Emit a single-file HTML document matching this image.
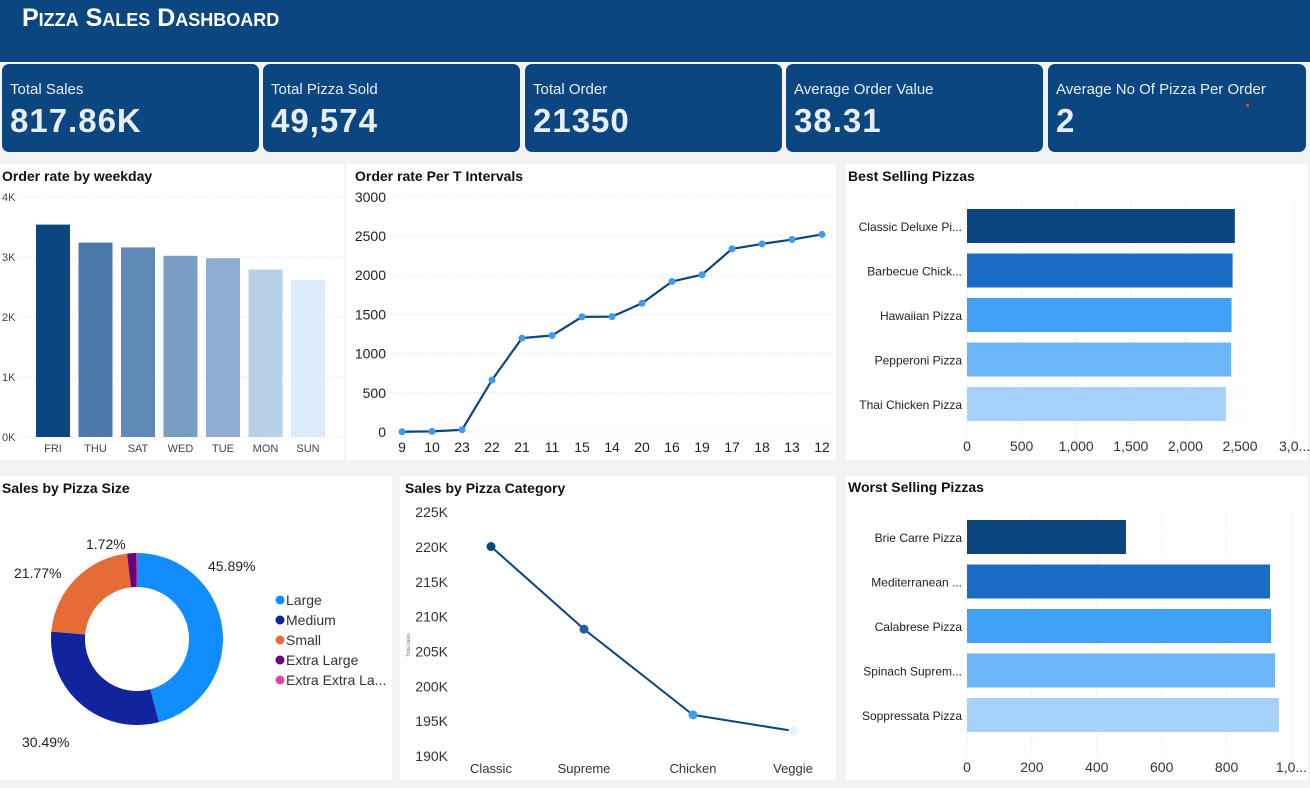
<!DOCTYPE html>
<html><head><meta charset="utf-8">
<style>
body{margin:0;width:1310px;height:788px;background:#f3f3f3;font-family:"Liberation Sans","DejaVu Sans",sans-serif;overflow:hidden;position:relative}
.hdr{position:absolute;left:0;top:0;width:1310px;height:62px;background:#0b4680}
.title{position:absolute;left:22px;top:4px;color:#fff;font-weight:bold;font-size:25px;font-variant:small-caps;font-family:"Liberation Sans Narrow","Liberation Sans",sans-serif}
.card{position:absolute;top:64px;height:88px;background:#0b4680;border-radius:7px;color:#fff}
.card .l{position:absolute;left:8px;top:17px;font-size:15px;color:#e8eef6}
.card .v{position:absolute;left:8px;top:38px;font-size:33px;font-weight:bold;color:#e8eef6;letter-spacing:1px;font-family:"Liberation Sans Narrow","Liberation Sans",sans-serif}
.panel{position:absolute;background:#fff}
svg text{font-family:"Liberation Sans","DejaVu Sans",sans-serif}
</style></head><body>
<div class="hdr"><div class="title">Pizza Sales Dashboard</div></div>
<div class="card" style="left:2px;width:257px"><div class="l">Total Sales</div><div class="v">817.86K</div></div>
<div class="card" style="left:263px;width:257px"><div class="l">Total Pizza Sold</div><div class="v">49,574</div></div>
<div class="card" style="left:525px;width:257px"><div class="l">Total Order</div><div class="v">21350</div></div>
<div class="card" style="left:786px;width:257px"><div class="l">Average Order Value</div><div class="v">38.31</div></div>
<div class="card" style="left:1048px;width:258px"><div class="l">Average No Of Pizza Per Order</div><div class="v">2</div><div style="position:absolute;left:198px;top:40px;width:3px;height:3px;background:#e33"></div></div>

<div class="panel" style="left:0;top:164px;width:344px;height:296px"></div>
<div class="panel" style="left:346px;top:164px;width:490px;height:296px"></div>
<div class="panel" style="left:846px;top:164px;width:462px;height:296px"></div>
<div class="panel" style="left:0;top:476px;width:392px;height:304px"></div>
<div class="panel" style="left:400px;top:476px;width:436px;height:304px"></div>
<div class="panel" style="left:846px;top:476px;width:462px;height:304px"></div>

<svg id="s" width="1310" height="788" style="position:absolute;left:0;top:0" xmlns="http://www.w3.org/2000/svg">
<g font-weight="bold" font-size="14" fill="#111">
<text x="2" y="181">Order rate by weekday</text>
<text x="355" y="181">Order rate Per T Intervals</text>
<text x="848" y="181">Best Selling Pizzas</text>
<text x="2" y="493">Sales by Pizza Size</text>
<text x="405" y="493">Sales by Pizza Category</text>
<text x="848" y="492">Worst Selling Pizzas</text>
</g>
<g id="g"></g>
</svg>
<script>
const days=["FRI","THU","SAT","WED","TUE","MON","SUN"];
const dayVals=[3540,3240,3160,3020,2980,2790,2620];
const dayTicks=["0K","1K","2K","3K","4K"];
const hours=["9","10","23","22","21","11","15","14","20","16","19","17","18","13","12"];
const hourVals=[3,8,28,663,1198,1231,1468,1472,1642,1920,2006,2336,2399,2455,2520];
const hourTicks=[0,500,1000,1500,2000,2500,3000];
const bestNames=["Classic Deluxe Pi...","Barbecue Chick...","Hawaiian Pizza","Pepperoni Pizza","Thai Chicken Pizza"];
const bestVals=[2453,2432,2422,2418,2371];
const bestTicks=["0","500","1,000","1,500","2,000","2,500","3,0..."];
const worstNames=["Brie Carre Pizza","Mediterranean ...","Calabrese Pizza","Spinach Suprem...","Soppressata Pizza"];
const worstVals=[490,934,937,949,961];
const worstTicks=["0","200","400","600","800","1,0..."];
const sizeNames=["Large","Medium","Small","Extra Large","Extra Extra La..."];
const sizeVals=[45.89,30.49,21.77,1.72,0.12];
const catNames=["Classic","Supreme","Chicken","Veggie"];
const catVals=[220.05,208.2,195.9,193.6];
const catTicks=[190,195,200,205,210,215,220,225];

const NS="http://www.w3.org/2000/svg",G=document.getElementById("g");
function mk(t,a,txt){const e=document.createElementNS(NS,t);for(const k in a)e.setAttribute(k,a[k]);if(txt!=null)e.textContent=txt;G.appendChild(e);return e;}
const blues=["#0b4680","#1a6cc4","#41a0f7","#6bb6f7","#a6d1fb"];

const wy=v=>437-v*0.06, wx=i=>53+i*42.5;
dayTicks.forEach((t,i)=>{const y=wy(i*1000);
 let l=mk("line",{x1:18,x2:344,y1:y,y2:y,stroke:"#ddd","stroke-dasharray":"1,2"});
 
 let e=mk("text",{x:2,y:y+4,"font-size":11,fill:"#444"},t);
 });
const dcol=["#0b4680","#4a78a8","#5f89b6","#7a9dc4","#8eadd2","#b7d0e8","#dcecfd"];
days.forEach((d,i)=>{const y=wy(dayVals[i]);
 let r=mk("rect",{x:wx(i)-17,y:y,width:34,height:437-y,fill:dcol[i]});
 
 let t=mk("text",{x:wx(i),y:452,"font-size":11,fill:"#444","text-anchor":"middle"},d);
 });

const ly=v=>432-v*0.0784, lx=i=>402+i*30;
hourTicks.forEach(v=>{const y=ly(v);
 let l=mk("line",{x1:390,x2:834,y1:y,y2:y,stroke:"#ddd","stroke-dasharray":"1,2"});
 
 let e=mk("text",{x:386,y:y+5,"font-size":14,fill:"#222","text-anchor":"end"},v);
 });
let p=mk("polyline",{points:hourVals.map((v,i)=>lx(i)+","+ly(v)).join(" "),fill:"none",stroke:"#0b4680","stroke-width":2.2});

hours.forEach((h,i)=>{let c=mk("circle",{cx:lx(i),cy:ly(hourVals[i]),r:3.5,fill:"#3d9cf0"});
 
 let t=mk("text",{x:lx(i),y:452,"font-size":14,fill:"#222","text-anchor":"middle"},h);
 });

function hbar(names,vals,ticks,step,scale,y0,tickY,prefix){
 ticks.forEach((t,i)=>{const x=967+i*step*scale;
  let l=mk("line",{x1:x,x2:x,y1:y0-8,y2:tickY-14,stroke:"#e3e3e3","stroke-dasharray":"1,2"});
  
  let e=mk("text",{x:x,y:tickY,"font-size":14,fill:"#333","text-anchor":"middle"},t);
  });
 names.forEach((n,i)=>{const y=y0+i*44.5;
  let r=mk("rect",{x:967,y:y,width:vals[i]*scale,height:34,fill:blues[i]});
  
  let t=mk("text",{x:962,y:y+22,"font-size":12,fill:"#222","text-anchor":"end"},n);
  });
}
hbar(bestNames,bestVals,bestTicks,500,0.1092,209,451,'best-selling');
hbar(worstNames,worstVals,worstTicks,200,0.3245,520,772,'worst-selling');

const cx=137,cy=639,R=86,r0=52,scol=["#118dff","#12239e","#e66c37","#6b007b","#e044a7"];
let a=0;const tot=sizeVals.reduce((s,v)=>s+v,0);
sizeVals.forEach((v,i)=>{const a0=a,a1=a+v/tot*2*Math.PI;a=a1;
 const P=(rr,t)=>[cx+rr*Math.sin(t),cy-rr*Math.cos(t)];const lg=a1-a0>Math.PI?1:0;
 const [x1,y1]=P(R,a0),[x2,y2]=P(R,a1),[x3,y3]=P(r0,a1),[x4,y4]=P(r0,a0);
 let s=mk("path",{d:`M${x1},${y1}A${R},${R} 0 ${lg} 1 ${x2},${y2}L${x3},${y3}A${r0},${r0} 0 ${lg} 0 ${x4},${y4}Z`,fill:scol[i]});
 
 let c=mk("circle",{cx:280,cy:600+i*20,r:4.5,fill:scol[i]});
 
 let t=mk("text",{x:286,y:605+i*20,"font-size":14,fill:"#333"},sizeNames[i]);
 });
[[208,571,0],[22,747,1],[14,578,2],[86,549,3]].forEach(([x,y,i])=>{
 let t=mk("text",{x:x,y:y,"font-size":14,fill:"#222"},sizeVals[i].toFixed(2)+"%");
 });

const cyv=v=>756-(v-190)*6.97, cxs=[491,584,693,793];
catTicks.forEach(v=>{let e=mk("text",{x:448,y:cyv(v)+5,"font-size":14,fill:"#333","text-anchor":"end"},v+"K");
 });
let cl=mk("polyline",{points:catVals.map((v,i)=>cxs[i]+","+cyv(v)).join(" "),fill:"none",stroke:"#0b4680","stroke-width":2});

const ccol=["#0b4680","#1a5fa8","#3d9cf0","#e3f0fd"];
catNames.forEach((n,i)=>{let c=mk("circle",{cx:cxs[i],cy:cyv(catVals[i]),r:4.5,fill:ccol[i]});
 
 let t=mk("text",{x:cxs[i],y:773,"font-size":13,fill:"#333","text-anchor":"middle"},n);
 });
let yt=mk("text",{x:410,y:645,"font-size":5,fill:"#777",transform:"rotate(-90 410 645)","text-anchor":"middle"},"Total sales");

</script>
</body></html>
